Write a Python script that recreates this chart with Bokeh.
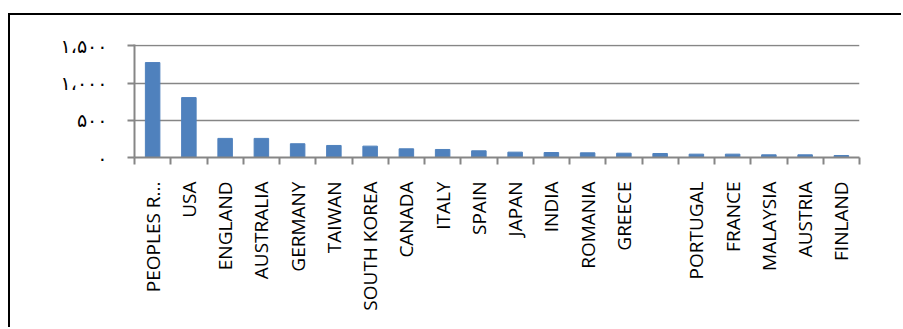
import math
from bokeh.plotting import figure
from bokeh.models import Range1d, FixedTicker
from bokeh.embed import file_html
from bokeh.resources import INLINE

countries = ["PEOPLES R...", "USA", "ENGLAND", "AUSTRALIA", "GERMANY", "TAIWAN",
             "SOUTH KOREA", "CANADA", "ITALY", "SPAIN", "JAPAN", "INDIA",
             "ROMANIA", "GREECE", "", "PORTUGAL", "FRANCE", "MALAYSIA",
             "AUSTRIA", "FINLAND"]
counts = [1277, 806, 257, 257, 185, 162, 153, 117, 108, 90,
          72, 67, 63, 58, 54, 45, 45, 36, 36, 27]
y_ticks = [0, 500, 1000, 1500]
y_tick_labels = ["۰", "۵۰۰", "۱،۰۰۰", "۱،۵۰۰"]

n = len(countries)
xs = [i + 0.5 for i in range(n)]

p = figure(width=893, height=314, output_backend="svg", toolbar_location=None,
           x_range=Range1d(0, n), y_range=Range1d(0, 1520),
           min_border_left=124, min_border_right=44, min_border_top=29,
           min_border_bottom=172,
           styles={"margin-left": "8px", "margin-top": "13px",
                   "border-left": "2px solid black",
                   "border-top": "2px solid black"})
p.outline_line_color = None
p.background_fill_color = "white"
p.border_fill_color = "white"

p.vbar(x=xs, top=counts, width=0.4, color="#4F81BD")

grey = "#868686"
# x axis
xa = p.xaxis[0]
xa.ticker = FixedTicker(ticks=xs, minor_ticks=list(range(n + 1)))
xa.major_label_overrides = {x: c for x, c in zip(xs, countries)}
xa.major_label_orientation = math.pi / 2
xa.major_tick_out = 0
xa.major_tick_in = 0
xa.minor_tick_out = 7
xa.minor_tick_in = 0
xa.minor_tick_line_color = grey
xa.minor_tick_line_width = 2
xa.axis_line_color = grey
xa.axis_line_width = 2
xa.major_label_text_font = "Open Sans"
xa.major_label_text_font_size = "19px"
xa.major_label_text_color = "black"
xa.major_label_standoff = 17

# y axis
ya = p.yaxis[0]
ya.ticker = FixedTicker(ticks=y_ticks, minor_ticks=[])
ya.major_label_overrides = {t: l for t, l in zip(y_ticks, y_tick_labels)}
ya.major_tick_out = 7
ya.major_tick_in = 0
ya.major_tick_line_color = grey
ya.major_tick_line_width = 2
ya.axis_line_color = grey
ya.axis_line_width = 2
ya.major_label_text_font = "DejaVu Sans"
ya.major_label_text_font_size = "19px"
ya.major_label_text_color = "black"
ya.major_label_standoff = 20

p.xgrid.grid_line_color = None
p.ygrid.ticker = FixedTicker(ticks=y_ticks)
p.ygrid.grid_line_color = grey
p.ygrid.grid_line_width = 1.5

open("out.html", "w").write(file_html(p, INLINE))
